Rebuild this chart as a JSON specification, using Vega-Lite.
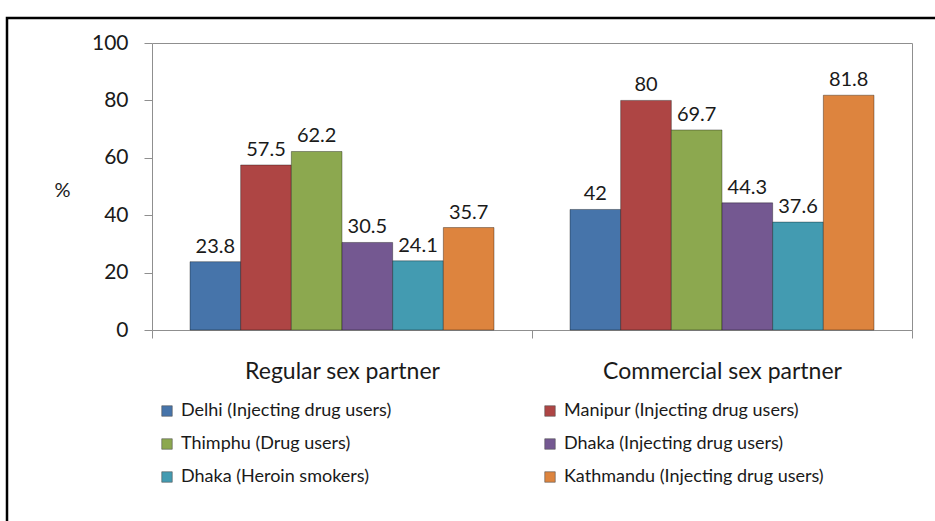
{
  "$schema": "https://vega.github.io/schema/vega-lite/v6.json",
  "width": 936,
  "height": 511,
  "padding": {"left": 7, "top": 18, "right": -8, "bottom": -8},
  "autosize": {"type": "none"},
  "background": "white",
  "config": {
    "view": {"stroke": "#000000", "strokeWidth": 2.5, "fill": "white"},
    "font": "Lato",
    "axis": {
      "labelFont": "Lato",
      "titleFont": "Lato",
      "labelColor": "#1a1a1a",
      "titleColor": "#1a1a1a",
      "domainColor": "#8f8f8f",
      "tickColor": "#8f8f8f",
      "domainWidth": 1,
      "tickWidth": 1,
      "grid": false
    },
    "legend": {"labelFont": "Lato"}
  },
  "data": {
    "values": [
      {"partner": "Regular sex partner", "group": "Delhi (Injecting drug users)", "value": 23.8},
      {"partner": "Regular sex partner", "group": "Manipur (Injecting drug users)", "value": 57.5},
      {"partner": "Regular sex partner", "group": "Thimphu (Drug users)", "value": 62.2},
      {"partner": "Regular sex partner", "group": "Dhaka (Injecting drug users)", "value": 30.5},
      {"partner": "Regular sex partner", "group": "Dhaka (Heroin smokers)", "value": 24.1},
      {"partner": "Regular sex partner", "group": "Kathmandu (Injecting drug users)", "value": 35.7},
      {"partner": "Commercial sex partner", "group": "Delhi (Injecting drug users)", "value": 42},
      {"partner": "Commercial sex partner", "group": "Manipur (Injecting drug users)", "value": 80},
      {"partner": "Commercial sex partner", "group": "Thimphu (Drug users)", "value": 69.7},
      {"partner": "Commercial sex partner", "group": "Dhaka (Injecting drug users)", "value": 44.3},
      {"partner": "Commercial sex partner", "group": "Dhaka (Heroin smokers)", "value": 37.6},
      {"partner": "Commercial sex partner", "group": "Kathmandu (Injecting drug users)", "value": 81.8}
    ]
  },
  "layer": [
    {
      "mark": {"type": "bar", "stroke": "#000000", "strokeOpacity": 0.35, "strokeWidth": 1},
      "encoding": {
        "x": {
          "field": "partner",
          "type": "nominal",
          "sort": ["Regular sex partner", "Commercial sex partner"],
          "scale": {"range": [145, 905], "paddingInner": 0, "paddingOuter": 0},
          "axis": {
            "title": null,
            "offset": -199,
            "labelAngle": 0,
            "labelFontSize": 23,
            "labelPadding": 22,
            "labelLimit": 400,
            "tickSize": 8,
            "tickBand": "extent"
          }
        },
        "xOffset": {
          "field": "group",
          "type": "nominal",
          "sort": [
            "Delhi (Injecting drug users)",
            "Manipur (Injecting drug users)",
            "Thimphu (Drug users)",
            "Dhaka (Injecting drug users)",
            "Dhaka (Heroin smokers)",
            "Kathmandu (Injecting drug users)"
          ],
          "scale": {"paddingInner": 0, "paddingOuter": 0.75}
        },
        "y": {
          "field": "value",
          "type": "quantitative",
          "scale": {"domain": [0, 100], "range": [312, 25], "nice": false},
          "axis": {
            "title": "%",
            "titleAngle": 0,
            "titleFontSize": 20,
            "titleFontWeight": "normal",
            "titleAlign": "center",
            "titleBaseline": "middle",
            "titleX": -90,
            "titleY": 172,
            "offset": -145,
            "values": [0, 20, 40, 60, 80, 100],
            "labelFontSize": 21,
            "labelPadding": 16,
            "tickSize": 8
          }
        },
        "color": {
          "field": "group",
          "type": "nominal",
          "sort": [
            "Delhi (Injecting drug users)",
            "Thimphu (Drug users)",
            "Dhaka (Heroin smokers)",
            "Manipur (Injecting drug users)",
            "Dhaka (Injecting drug users)",
            "Kathmandu (Injecting drug users)"
          ],
          "scale": {
            "range": ["#4674AA", "#8CA84F", "#439BB1", "#AE4544", "#745891", "#DD843E"]
          },
          "legend": {
            "title": null,
            "orient": "none",
            "legendX": 151,
            "legendY": 384,
            "columns": 2,
            "columnPadding": 149,
            "rowPadding": 15,
            "padding": 0,
            "symbolType": "square",
            "symbolSize": 110,
            "symbolStrokeWidth": 0.6,
            "symbolStrokeColor": "#555555",
            "symbolOpacity": 1,
            "labelFontSize": 18,
            "labelColor": "#1a1a1a",
            "labelOffset": 5,
            "labelLimit": 400
          }
        }
      }
    },
    {
      "mark": {"type": "text", "baseline": "bottom", "dy": -5, "fontSize": 20, "color": "#1a1a1a"},
      "encoding": {
        "x": {"field": "partner", "type": "nominal", "sort": ["Regular sex partner", "Commercial sex partner"], "axis": null},
        "xOffset": {
          "field": "group",
          "type": "nominal",
          "sort": [
            "Delhi (Injecting drug users)",
            "Manipur (Injecting drug users)",
            "Thimphu (Drug users)",
            "Dhaka (Injecting drug users)",
            "Dhaka (Heroin smokers)",
            "Kathmandu (Injecting drug users)"
          ]
        },
        "y": {"field": "value", "type": "quantitative", "axis": null},
        "text": {"field": "value", "type": "quantitative"}
      }
    },
    {
      "mark": {"type": "rule", "opacity": 0},
      "encoding": {
        "x": {"field": "partner", "type": "nominal", "sort": ["Regular sex partner", "Commercial sex partner"], "axis": {"orient": "top", "offset": -25, "labels": false, "ticks": false, "title": null}},
        "y": {"field": "value", "type": "quantitative", "axis": {"orient": "right", "offset": -31, "labels": false, "ticks": false, "title": null}}
      }
    }
  ],
  "resolve": {"axis": {"x": "independent", "y": "independent"}}
}
